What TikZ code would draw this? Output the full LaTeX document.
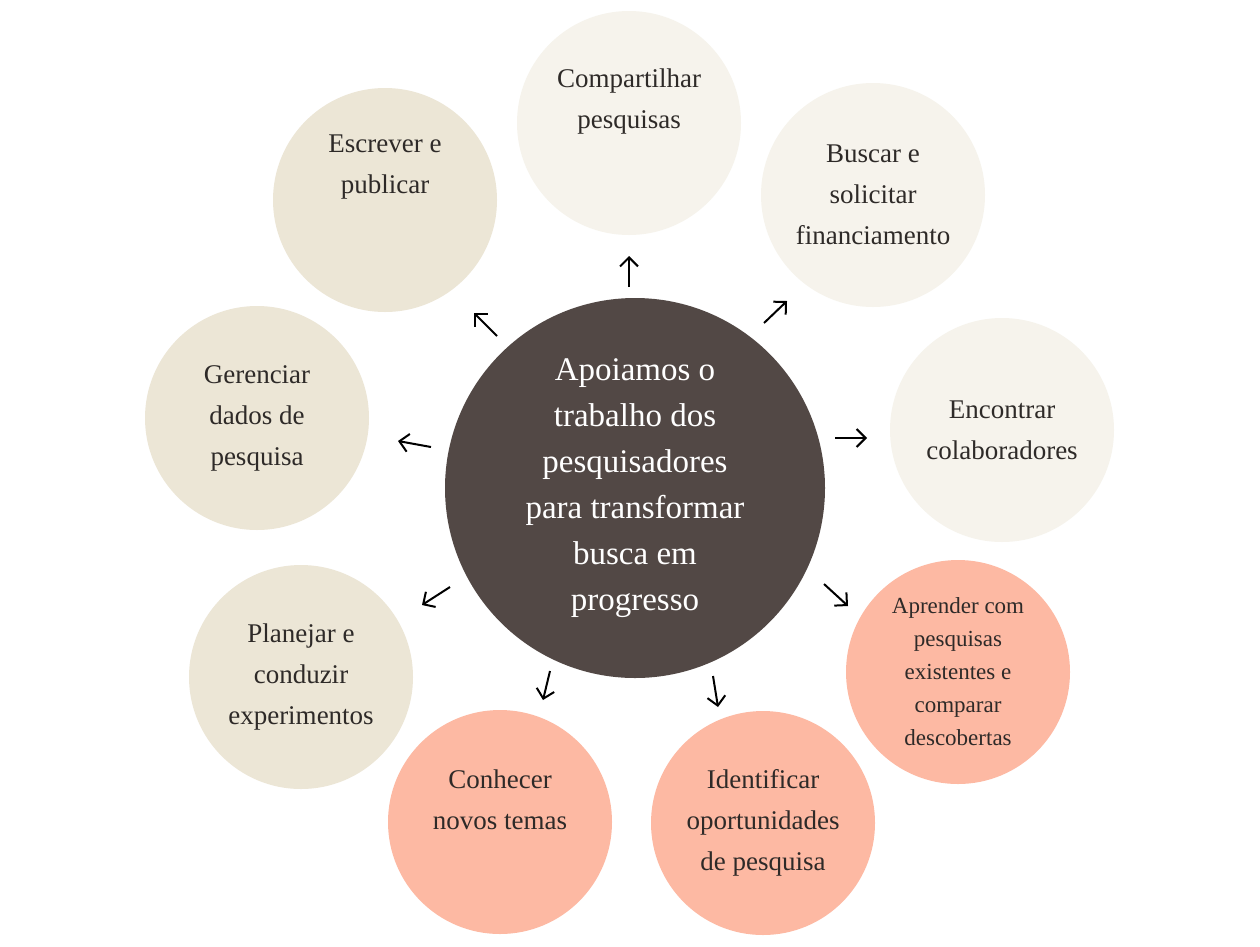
\documentclass[tikz,border=0pt]{standalone}
\usepackage{fontspec}
\setmainfont{Liberation Serif}
\usetikzlibrary{arrows.meta}
\definecolor{dark}{HTML}{524845}
\definecolor{beige}{HTML}{ECE6D6}
\definecolor{light}{HTML}{F6F3EC}
\definecolor{salmon}{HTML}{FDB9A3}
\definecolor{ink}{HTML}{2E2A28}
\tikzset{
 bub/.style={circle,minimum size=224pt,inner sep=0pt,align=center,text=ink,font=\fontsize{27}{41}\selectfont},
 arr/.style={-{Straight Barb[length=9pt,width=18pt,line width=2pt]},line width=2pt,draw=black}
}
\begin{document}
\begin{tikzpicture}[x=1pt,y=-1pt]
\useasboundingbox (0,0) rectangle (1260,946);
\fill[white] (0,0) rectangle (1260,946);
\node[circle,fill=dark,minimum size=380pt,inner sep=0pt,align=center,text=white,font=\fontsize{33}{46}\selectfont] (c) at (635,488) {Apoiamos o\\trabalho dos\\pesquisadores\\para transformar\\busca em\\progresso};
\node[bub,fill=light] (n1) at (629,123) {Compartilhar\\pesquisas\\[8pt]};
\node[bub,fill=light] (n2) at (873,195) {Buscar e\\solicitar\\financiamento};
\node[bub,fill=light] (n3) at (1002,430) {Encontrar\\colaboradores};
\node[bub,fill=salmon,font=\fontsize{23}{33}\selectfont] (n4) at (958,672) {Aprender com\\pesquisas\\existentes e\\comparar\\descobertas};
\node[bub,fill=salmon] (n5) at (763,823) {Identificar\\oportunidades\\de pesquisa};
\node[bub,fill=salmon] (n6) at (500,822) {Conhecer\\novos temas\\[4pt]};
\node[bub,fill=beige] (n7) at (301,677) {Planejar e\\conduzir\\experimentos};
\node[bub,fill=beige] (n8) at (257,418) {Gerenciar\\dados de\\pesquisa};
\node[bub,fill=beige] (n9) at (385,200) {Escrever e\\publicar\\[30pt]};
\foreach \a/\b in {629/285, 763/323, 836/437, 825/585, 713/677, 549/672, 449/588, 431/446, 497/336} {}
\coordinate (s1) at (629,287); \coordinate (e1) at (629,256);
\coordinate (s2) at (764,323); \coordinate (e2) at (787,301);
\coordinate (s3) at (835,438); \coordinate (e3) at (867,438);
\coordinate (s4) at (824,584); \coordinate (e4) at (848,606);
\coordinate (s5) at (713,676); \coordinate (e5) at (718,707);
\coordinate (s6) at (550,671); \coordinate (e6) at (543,700);
\coordinate (s7) at (450,587); \coordinate (e7) at (422,605);
\coordinate (s8) at (431,447); \coordinate (e8) at (398,441);
\coordinate (s9) at (497,336); \coordinate (e9) at (474,313);
\foreach \i in {1,...,9} \draw[arr] (s\i) -- (e\i);
\end{tikzpicture}
\end{document}
